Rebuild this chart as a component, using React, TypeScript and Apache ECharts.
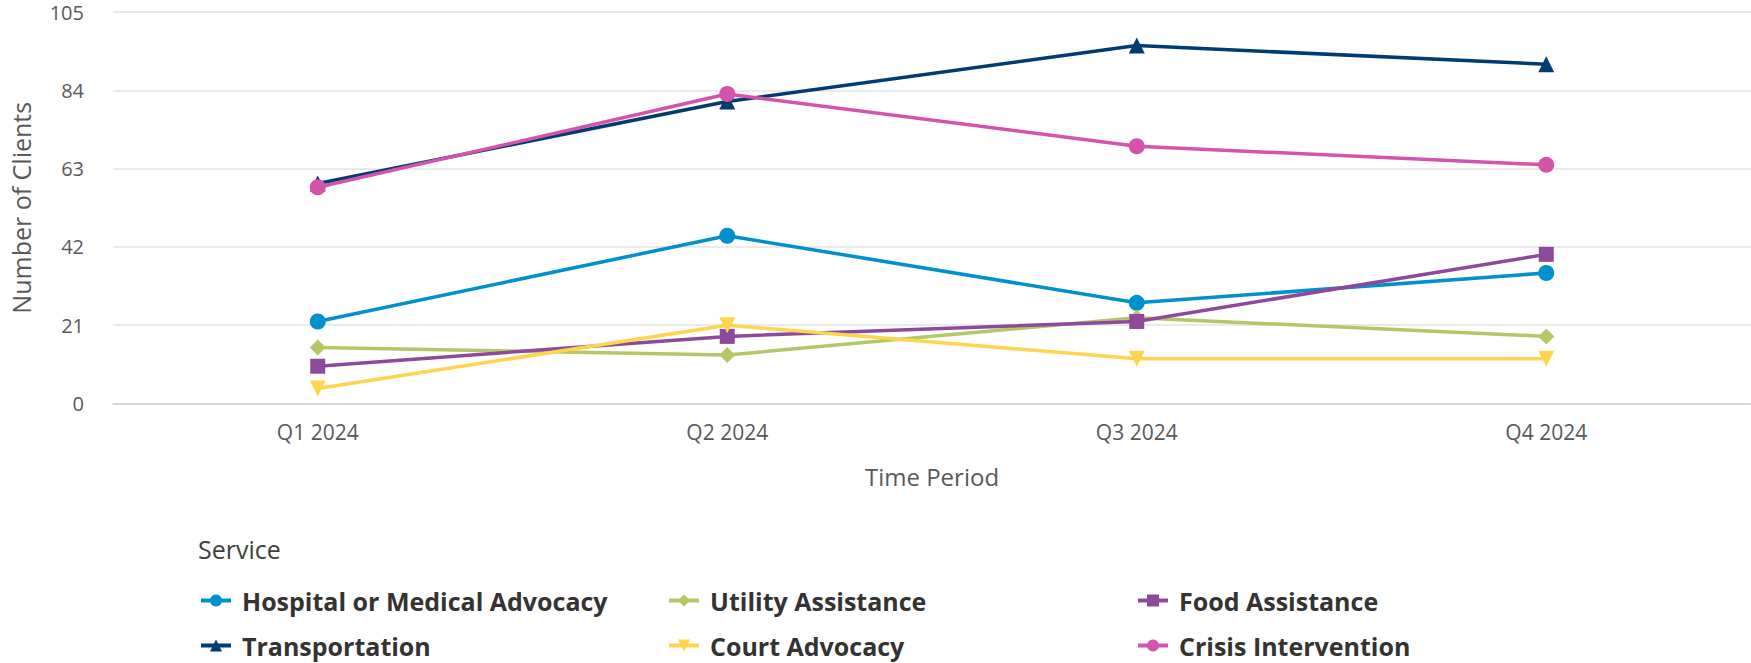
import React, { useEffect, useRef } from "react";
import * as echarts from "echarts";

const categories = ["Q1 2024", "Q2 2024", "Q3 2024", "Q4 2024"];
const yTicks = { min: 0, max: 105, interval: 21 };

const hospital = [22, 45, 27, 35];
const utility = [15, 13, 23, 18];
const food = [10, 18, 22, 40];
const transportation = [59, 81, 96, 91];
const court = [4, 21, 12, 12];
const crisis = [58, 83, 69, 64];

const seriesDefs = [
  { name: "Hospital or Medical Advocacy", data: hospital, color: "#0090CE", symbol: "circle", size: 16 },
  { name: "Utility Assistance", data: utility, color: "#B3C767", symbol: "diamond", size: 16 },
  { name: "Food Assistance", data: food, color: "#8E4A9A", symbol: "rect", size: 15 },
  { name: "Transportation", data: transportation, color: "#003B71", symbol: "triangle", size: 16 },
  { name: "Court Advocacy", data: court, color: "#FDD54F", symbol: "path://M0,0 L10,0 L5,10 Z", size: 16 },
  { name: "Crisis Intervention", data: crisis, color: "#D453AB", symbol: "circle", size: 16 },
];

const legendColumns = [
  ["Hospital or Medical Advocacy", "Transportation"],
  ["Utility Assistance", "Court Advocacy"],
  ["Food Assistance", "Crisis Intervention"],
];

const FONT = "'Open Sans', sans-serif";

export default function App() {
  const ref = useRef<HTMLDivElement>(null);
  useEffect(() => {
    if (!ref.current) return;
    const chart = echarts.init(ref.current, undefined, { renderer: "svg" });
    const legendLefts = [199, 667, 1136];
    chart.setOption({
      animation: false,
      textStyle: { fontFamily: FONT },
      title: {
        text: "Service",
        left: 198,
        top: 536,
        padding: 0,
        textStyle: { fontFamily: FONT, fontSize: 25, fontWeight: "normal", color: "#404040" },
      },
      legend: legendColumns.map((col, i) => ({
        data: col,
        orient: "vertical",
        left: legendLefts[i],
        top: 588,
        padding: 0,
        itemWidth: 30,
        itemHeight: 15,
        itemGap: 20,
        selectedMode: false,
        lineStyle: { width: 4 },
        textStyle: { fontFamily: FONT, fontSize: 25, fontWeight: "bold", color: "#333333", padding: [0, 0, 0, 6] },
      })),
      grid: { left: 108, right: 0, top: 12, bottom: 259.5, containLabel: false },
      xAxis: {
        type: "category",
        data: categories,
        boundaryGap: true,
        name: "Time Period",
        nameLocation: "middle",
        nameGap: 61,
        nameTextStyle: { fontFamily: FONT, fontSize: 24, color: "#595959" },
        axisLine: { show: true, lineStyle: { color: "#C9D3E3", width: 1.5 } },
        axisTick: { show: false },
        axisLabel: { margin: 18, fontFamily: FONT, fontSize: 21, color: "#595959" },
      },
      yAxis: {
        type: "value",
        min: yTicks.min,
        max: yTicks.max,
        interval: yTicks.interval,
        name: "Number of Clients",
        nameLocation: "middle",
        nameGap: 80,
        nameTextStyle: { fontFamily: FONT, fontSize: 25, color: "#595959" },
        axisLine: { show: false },
        axisTick: { show: false },
        axisLabel: { margin: 29, fontFamily: FONT, fontSize: 20, lineHeight: 16, color: "#595959" },
        splitLine: { lineStyle: { color: "#E3E3E3", width: 1.5 } },
      },
      series: seriesDefs.map((s) => ({
        name: s.name,
        type: "line",
        data: s.data,
        symbol: s.symbol,
        symbolSize: s.size,
        showAllSymbol: true,
        itemStyle: { color: s.color },
        lineStyle: { color: s.color, width: 3.5 },
      })),
    });
    return () => chart.dispose();
  }, []);
  return (
    <div
      ref={ref}
      style={{ position: "fixed", left: 0, top: 0, width: 1751, height: 663, background: "#ffffff" }}
    />
  );
}
